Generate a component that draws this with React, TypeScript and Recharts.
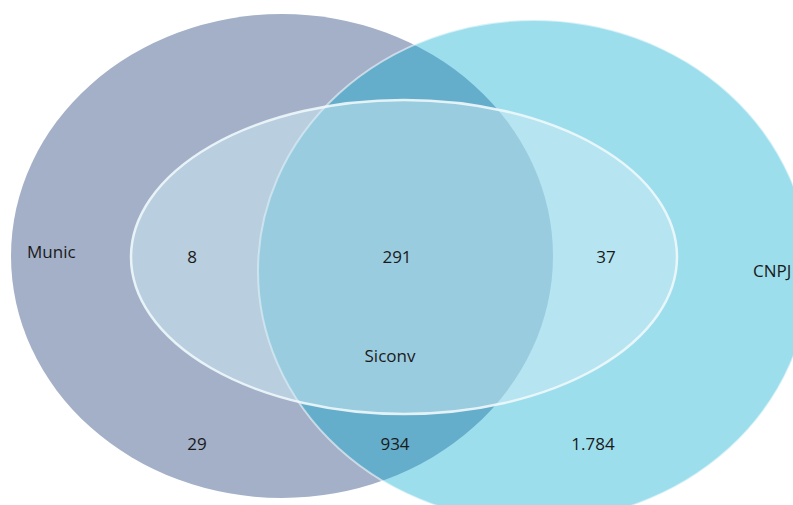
import React from "react";
import { ScatterChart, Scatter, XAxis, YAxis } from "recharts";

const CHART_W = 793;
const CHART_H = 505;

// sets (ellipse centre and radii, in chart units)
const SET_NAMES = ["Munic", "CNPJ", "Siconv"];
const SET_CX = [282, 534, 404];
const SET_CY = [256, 271, 257];
const SET_RX = [271, 276, 273];
const SET_RY = [242, 251, 157];

// region counts and where they sit
const REGION_LABELS = ["29", "8", "291", "934", "37", "1.784"];
const REGION_X = [197, 192, 397, 395, 606, 593];
const REGION_Y = [443, 256, 256, 443, 256, 443];

// set names
const NAME_X = [27, 753, 390];
const NAME_Y = [251, 270, 355];
const NAME_ANCHOR = ["start", "start", "middle"];

const SET_STYLE: Record<string, any> = {
  Munic: { fill: "#a3b0c8", fillOpacity: 1, stroke: "none", strokeOpacity: 0, strokeWidth: 0 },
  CNPJ: { fill: "#00a9d0", fillOpacity: 0.385, stroke: "#ffffff", strokeOpacity: 0.55, strokeWidth: 2 },
  Siconv: { fill: "#d0ecf5", fillOpacity: 0.5, stroke: "#eef8fb", strokeOpacity: 0.9, strokeWidth: 2.5 },
};

const sets = SET_NAMES.map((name, i) => ({
  name,
  x: SET_CX[i],
  y: SET_CY[i],
  rx: SET_RX[i],
  ry: SET_RY[i],
}));

const regionLabels = REGION_LABELS.map((label, i) => ({
  label,
  x: REGION_X[i],
  y: REGION_Y[i],
  anchor: "middle",
}));

const nameLabels = SET_NAMES.map((label, i) => ({
  label,
  x: NAME_X[i],
  y: NAME_Y[i],
  anchor: NAME_ANCHOR[i],
}));

const kx = CHART_W / CHART_W;
const ky = CHART_H / CHART_H;

const EllipseShape = (props: any) => {
  const { cx, cy, payload } = props;
  const s = SET_STYLE[payload.name];
  return (
    <ellipse
      cx={cx}
      cy={cy}
      rx={payload.rx * kx}
      ry={payload.ry * ky}
      fill={s.fill}
      fillOpacity={s.fillOpacity}
      stroke={s.stroke}
      strokeOpacity={s.strokeOpacity}
      strokeWidth={s.strokeWidth}
    />
  );
};

const TextShape = (props: any) => {
  const { cx, cy, payload } = props;
  return (
    <text
      x={cx}
      y={cy}
      textAnchor={payload.anchor}
      dominantBaseline="central"
      fontFamily="'Open Sans', sans-serif"
      fontSize={17}
      fill="#1a1a1a"
    >
      {payload.label}
    </text>
  );
};

export default function App() {
  return (
    <div style={{ position: "absolute", left: 0, top: 0, width: CHART_W, height: CHART_H, background: "#fff" }}>
      <ScatterChart width={CHART_W} height={CHART_H} margin={{ top: 0, right: 0, bottom: 0, left: 0 }}>
        <XAxis type="number" dataKey="x" domain={[0, CHART_W]} hide />
        <YAxis type="number" dataKey="y" domain={[0, CHART_H]} reversed hide />
        {sets.map((s) => (
          <Scatter key={s.name} data={[s]} shape={EllipseShape} isAnimationActive={false} />
        ))}
        <Scatter data={regionLabels} shape={TextShape} isAnimationActive={false} />
        <Scatter data={nameLabels} shape={TextShape} isAnimationActive={false} />
      </ScatterChart>
    </div>
  );
}
